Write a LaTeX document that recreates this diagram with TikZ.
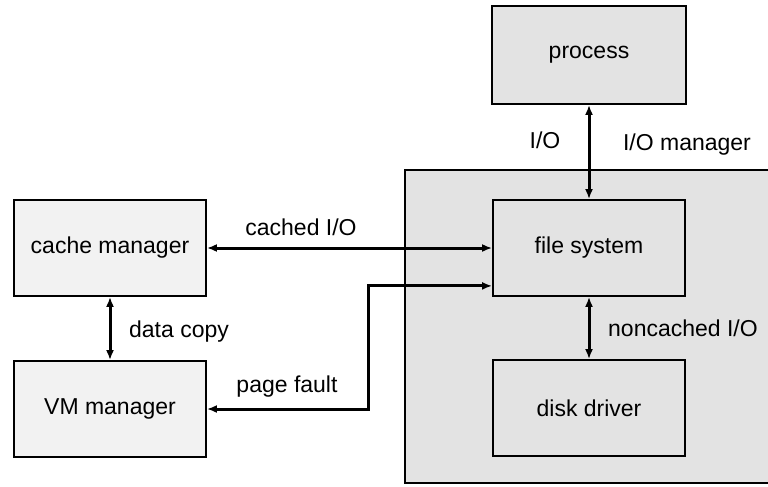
\documentclass[tikz,border=0pt]{standalone}
\usepackage{fontspec}
\setmainfont{Liberation Sans}
\usetikzlibrary{arrows.meta,calc}
\tikzset{
  font=\fontsize{23}{27}\selectfont,
  >={Latex[length=10pt,width=8pt]},
  dense/.style={draw=black, line width=1.8pt, fill=black!11},
  sparse/.style={draw=black, line width=1.8pt, fill=black!5},
  unit/.style={minimum width=192pt, minimum height=96pt, inner sep=0pt},
  link/.style={draw=black, line width=3pt, <->},
  lab/.style={inner sep=1pt},
}
\begin{document}
\begin{tikzpicture}[x=1pt,y=-1pt]
\clip (0,0) rectangle (768,487);
\fill[white] (0,0) rectangle (768,487);
% I/O manager region (runs off the right edge)
\node[dense, minimum width=375pt, minimum height=313pt, inner sep=0pt] (iomgr) at (592.5,326.5) {};
% boxes
\node[dense, unit, minimum width=194pt, minimum height=98pt] (process) at (589,55) {process};
\node[dense, unit] (filesys) at (589,248) {file system};
\node[dense, unit] (disk) at (589,408) {disk driver};
\node[sparse, unit] (cache) at (110,248) {cache manager};
\node[sparse, unit] (vm) at (110,409) {VM manager};
% connectors
\draw[link] (process) -- (filesys);
\draw[link] (filesys) -- (disk);
\draw[link] (cache) -- (filesys);
\draw[link] (cache) -- (vm);
\coordinate (fsin) at ([yshift=11pt]filesys.south west);
\coordinate (pf) at (368,0);
\draw[link] (vm.east) -| (pf |- fsin) -- (fsin);
% labels
\node[lab] (lio) at (545,140) {I/O};
\node[lab] (lmgr) at (687,145) {I/O manager};
\node[lab] (lcached) at (301,227) {cached I/O};
\node[lab] (lcopy) at (179,332) {data copy};
\node[lab] (lfault) at (287,387) {page fault};
\node[lab] (lnon) at (683,328) {noncached I/O};
\end{tikzpicture}
\end{document}
